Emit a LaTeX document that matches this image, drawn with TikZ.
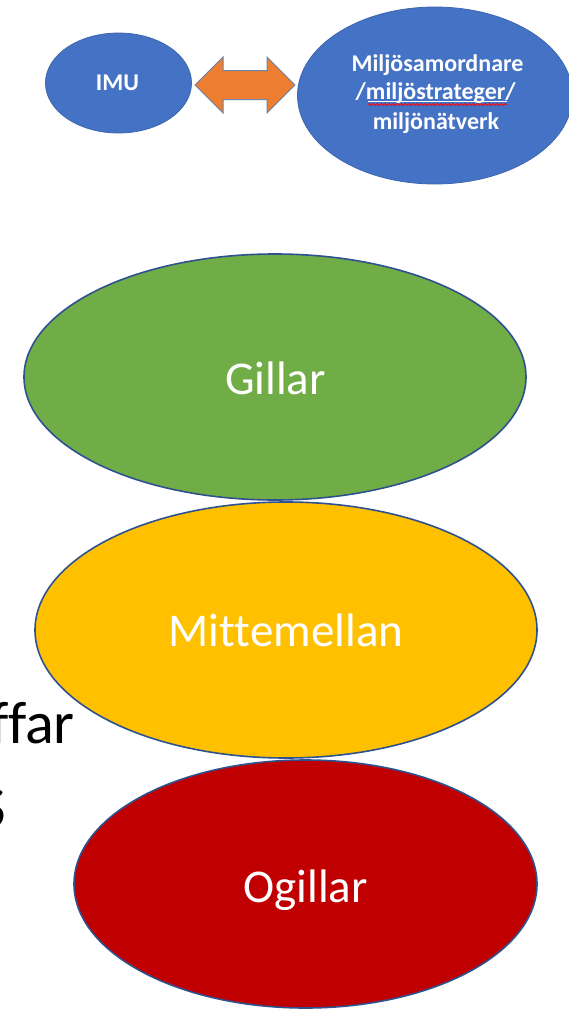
\documentclass[tikz,border=0pt]{standalone}
\usepackage{fontspec}
\setmainfont{Carlito}[Ligatures=CommonOff]
\usetikzlibrary{shapes.geometric,decorations.pathmorphing}
\definecolor{pblue}{HTML}{4472C4}
\definecolor{pblueline}{HTML}{3F66B0}
\definecolor{pgreen}{HTML}{70AD47}
\definecolor{pyellow}{HTML}{FFC000}
\definecolor{pred}{HTML}{C00000}
\definecolor{porange}{HTML}{ED7D31}
\definecolor{outline}{HTML}{2F528F}
\definecolor{arrowline}{HTML}{6A84AA}
\tikzset{
  bigoval/.style={ellipse, draw=outline, line width=1.6pt, inner sep=0pt},
  topoval/.style={ellipse, fill=pblue, draw=pblueline, line width=0.8pt, inner sep=0pt},
  biglabel/.style={anchor=base, inner sep=0pt, text=white, font=\fontsize{47}{56}\selectfont},
  toplabel/.style={anchor=base, inner sep=0pt, text=white, font=\bfseries\fontsize{24}{29}\selectfont},
  sidetext/.style={anchor=base east, inner sep=0pt, text=black, font=\fontsize{60}{72}\selectfont}
}
\begin{document}
\begin{tikzpicture}[x=1pt,y=-1pt]
\useasboundingbox (0,0) rectangle (569,1009);
\clip (0,0) rectangle (569,1009);
\fill[white] (0,0) rectangle (569,1009);

% top row
\node[topoval, minimum width=146pt, minimum height=100pt] (imu) at (118.5,83) {};
\node[toplabel] (imutext) at (117.5,90) {IMU};
\node[topoval, minimum width=275pt, minimum height=177pt] (miljo) at (435,95.5) {};
\node[toplabel] (mt1) at (437.5,71.7) {Miljösamordnare};
\node[toplabel] (mt2) at (435.7,99.3) {/miljöstrateger/};
\node[toplabel] (mt3) at (436,129) {miljönätverk};
\coordinate (sqA) at (368,101);
\coordinate (sqB) at (507,101);
\draw[white, line width=0.7pt] (sqA) -- (sqB);
\draw[red, line width=0.7pt, decorate, decoration={snake, amplitude=1.1pt, segment length=4pt}] ([yshift=-3.5pt]sqA) -- ([yshift=-3.5pt]sqB);

% double block arrow
\coordinate (arrL) at (195,85);
\coordinate (arrR) at (295,85);
\draw[fill=porange, draw=arrowline, line width=1pt, line join=miter]
  (arrL) -- ++(28,-28) -- ++(0,13.5) -- ++(44,0) -- ++(0,-13.5) -- (arrR)
  -- ++(-28,28) -- ++(0,-13.5) -- ++(-44,0) -- ++(0,13.5) -- cycle;

% big ovals
\node[bigoval, fill=pgreen, minimum width=502pt, minimum height=246pt] (gillar) at (275,377) {};
\node[biglabel] (gillartext) at (275.5,394) {Gillar};
\node[bigoval, fill=pyellow, minimum width=502pt, minimum height=256pt] (mitte) at (286,630) {};
\node[biglabel] (mittetext) at (286,646.7) {Mittemellan};
\node[bigoval, fill=pred, minimum width=463pt, minimum height=248pt] (ogillar) at (305.5,884) {};
\node[biglabel] (ogillartext) at (305.5,902) {Ogillar};

% partially visible text at the left
\node[sidetext] (ffar) at (75,743) {ffar};
\node[sidetext] (sfrag) at (6,827) {S};
\end{tikzpicture}
\end{document}
